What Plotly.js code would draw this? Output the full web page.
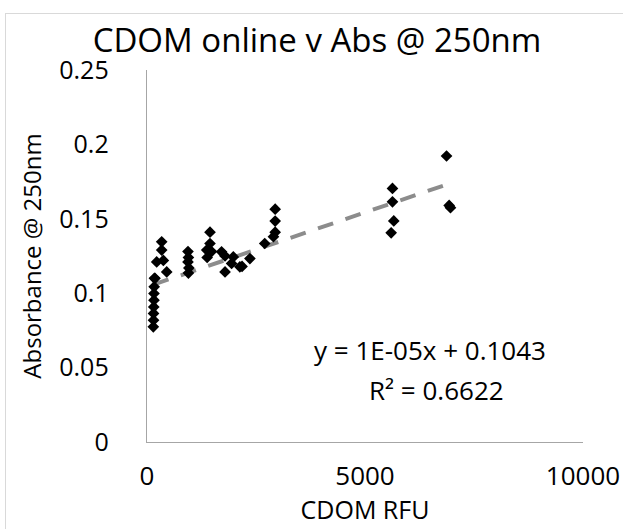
<!DOCTYPE html>
<html>
<head>
<meta charset="utf-8">
<script src="https://cdn.plot.ly/plotly-3.0.1.min.js"></script>
<style>
  html, body { margin: 0; padding: 0; background: #ffffff; }
  #frame { position: absolute; left: 5px; top: 13px; width: 640px; height: 540px; border: 1px solid #d9d9d9; }
  #chart { position: absolute; left: 0; top: 0; width: 623px; height: 529px; }
</style>
</head>
<body>
<div id="frame"></div>
<div id="chart"></div>
<script>
// CDOM online (RFU) vs Absorbance @ 250nm
const cdomRFU = [
  145, 150, 150, 155, 160, 160, 165, 170, 183, 222, 337, 337, 375, 452,
  940, 950, 940, 960, 950,
  1445, 1445, 1370, 1480, 1380, 1710, 1790, 1940, 1790, 1980, 2130, 2180, 2360,
  2700, 2940, 2940, 2940, 2900,
  5630, 5630, 5660, 5600,
  6870, 6930, 6960
];
const absorbance = [
  0.0774, 0.0819, 0.0864, 0.0908, 0.0953, 0.0998, 0.1043, 0.1100, 0.1100, 0.1210, 0.1345, 0.1290, 0.1220, 0.1143,
  0.1280, 0.1240, 0.1210, 0.1170, 0.1135,
  0.1410, 0.1334, 0.1290, 0.1280, 0.1240, 0.1278, 0.1250, 0.1200, 0.1143, 0.1244, 0.1177, 0.1180, 0.1233,
  0.1334, 0.1565, 0.1485, 0.1410, 0.1380,
  0.1704, 0.1614, 0.1486, 0.1406,
  0.1922, 0.1590, 0.1575
];
// Trendline as reported on the chart
const trendSlope = 1e-5;
const trendIntercept = 0.1043;
const trendLabel = ["y = 1E-05x + 0.1043", "R² = 0.6622"];
const xTickVals = [0, 5000, 10000];
const yTickVals = [0, 0.05, 0.1, 0.15, 0.2, 0.25];
const yTickText = ["0", "0.05", "0.1", "0.15", "0.2", "0.25"];

const xMin = Math.min(...cdomRFU), xMax = Math.max(...cdomRFU);
const trendX = [xMin, xMax];
const trendY = trendX.map(v => trendSlope * v + trendIntercept);

const FONT = "Open Sans, Lato, Liberation Sans, sans-serif";

const data = [
  {
    x: trendX, y: trendY, type: 'scatter', mode: 'lines',
    line: { color: '#8c8c8c', width: 4, dash: '16px,13px' },
    hoverinfo: 'skip', showlegend: false
  },
  {
    x: cdomRFU, y: absorbance, type: 'scatter', mode: 'markers',
    marker: { symbol: 'diamond', size: 9, color: '#000000', line: { width: 0 } },
    showlegend: false
  }
];

const layout = {
  width: 623, height: 529,
  paper_bgcolor: 'rgba(0,0,0,0)', plot_bgcolor: 'rgba(0,0,0,0)',
  margin: { l: 147, r: 40, t: 70, b: 87 },
  font: { family: FONT, color: '#000000', size: 26 },
  title: {
    text: 'CDOM online v Abs @ 250nm',
    font: { family: FONT, size: 33, color: '#000000' },
    x: 317 / 623, xanchor: 'center', xref: 'container',
    y: 1 - 40 / 529, yref: 'container', yanchor: 'middle'
  },
  xaxis: {
    range: [0, 10000], tickvals: xTickVals, ticktext: xTickVals.map(String),
    showgrid: false, zeroline: false, showline: true, linecolor: '#a6a6a6', linewidth: 1.3,
    ticks: '', ticklabelstandoff: 10,
    tickfont: { family: FONT, size: 26, color: '#000000' },
    title: { text: 'CDOM RFU', font: { family: FONT, size: 25, color: '#000000' }, standoff: 4 }
  },
  yaxis: {
    range: [0, 0.25], tickvals: yTickVals, ticktext: yTickText,
    showgrid: false, zeroline: false, showline: true, linecolor: '#a6a6a6', linewidth: 1.3,
    ticks: '', ticklabelstandoff: 32,
    tickfont: { family: FONT, size: 25, color: '#000000' },
    title: { text: 'Absorbance @ 250nm', font: { family: FONT, size: 24, color: '#000000' }, standoff: 10 }
  },
  annotations: [
    {
      x: 6500, y: 0.0617, xref: 'x', yref: 'y',
      text: trendLabel[0], showarrow: false, align: 'center',
      font: { family: FONT, size: 26, color: '#000000' }
    },
    {
      x: 6640, y: 0.0348, xref: 'x', yref: 'y',
      text: trendLabel[1], showarrow: false, align: 'center',
      font: { family: FONT, size: 26, color: '#000000' }
    }
  ]
};

Plotly.newPlot('chart', data, layout, { displayModeBar: false, staticPlot: true });
</script>
</body>
</html>
